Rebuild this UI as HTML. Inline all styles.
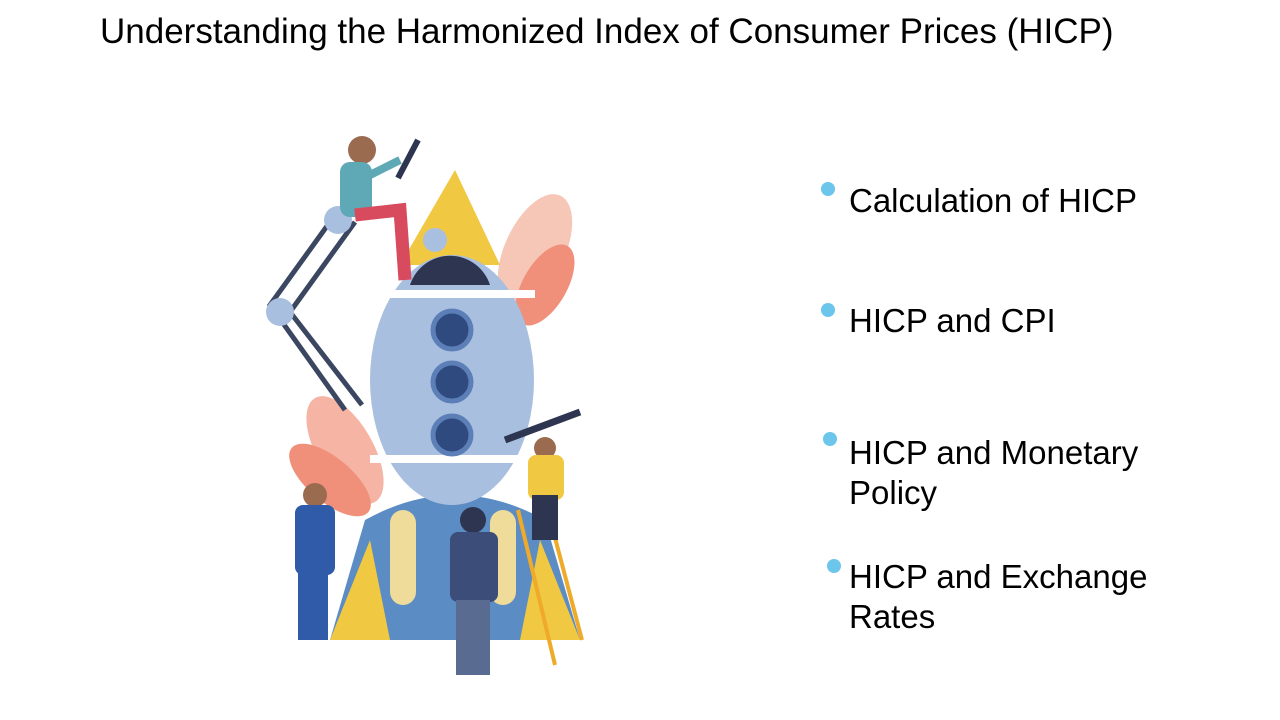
<!DOCTYPE html>
<html><head><meta charset="utf-8"><style>
html,body{margin:0;padding:0;background:#fff;width:1280px;height:720px;overflow:hidden;font-family:"Liberation Sans",Arial,sans-serif}
#title{position:absolute;left:100px;top:12px;font-size:35px;color:#000;white-space:nowrap}
.b{position:absolute;left:849px;font-size:33px;line-height:40px;color:#000}
.dot{position:absolute;width:14px;height:14px;border-radius:50%;background:#6cc6ec}
svg{position:absolute;left:0;top:0}
</style></head><body>
<div id="title">Understanding the Harmonized Index of Consumer Prices (HICP)</div>
<svg width="1280" height="720">
 <g>
  <ellipse cx="535" cy="250" rx="30" ry="60" fill="#f6c6b6" transform="rotate(25 535 250)"/>
  <ellipse cx="545" cy="285" rx="22" ry="45" fill="#f08f7a" transform="rotate(30 545 285)"/>
  <ellipse cx="345" cy="450" rx="28" ry="60" fill="#f6b4a4" transform="rotate(-30 345 450)"/>
  <ellipse cx="330" cy="480" rx="22" ry="50" fill="#f08f7a" transform="rotate(-50 330 480)"/>
 </g>
 <polygon points="455,170 400,265 500,265" fill="#f1c842"/>
 <path d="M365,520 Q455,470 545,520 L580,640 L330,640 Z" fill="#5b8cc4"/>
 <polygon points="330,640 370,540 390,640" fill="#f1c842"/>
 <polygon points="580,640 540,540 520,640" fill="#f1c842"/>
 <rect x="390" y="510" width="26" height="95" rx="13" fill="#efdb9a"/>
 <rect x="490" y="510" width="26" height="95" rx="13" fill="#efdb9a"/>
 <ellipse cx="452" cy="380" rx="82" ry="125" fill="#a9bfe0"/>
 <rect x="370" y="290" width="165" height="8" fill="#fff"/>
 <rect x="370" y="455" width="165" height="8" fill="#fff"/>
 <path d="M410,285 A42,42 0 0 1 490,285 Z" fill="#2d3550"/>
 <g fill="#2f4a7f" stroke="#5d7fb8" stroke-width="5">
  <circle cx="452" cy="330" r="19"/><circle cx="452" cy="382" r="19"/><circle cx="452" cy="435" r="19"/>
 </g>
 <g stroke="#3b4760" stroke-width="5" fill="none">
  <polyline points="335,215 270,305 345,410"/>
  <polyline points="355,222 290,312 362,405"/>
 </g>
 <circle cx="280" cy="312" r="14" fill="#a9bfe0"/><circle cx="338" cy="220" r="14" fill="#a9bfe0"/>
 <circle cx="435" cy="240" r="12" fill="#a9bfe0"/>
 <g>
  <circle cx="362" cy="150" r="14" fill="#9b6b50"/>
  <rect x="340" y="162" width="32" height="55" rx="10" fill="#5fa8b5"/>
  <path d="M355,215 L400,210 L405,280" stroke="#d84a5e" stroke-width="13" fill="none"/>
  <line x1="370" y1="175" x2="400" y2="160" stroke="#5fa8b5" stroke-width="8"/>
  <line x1="398" y1="178" x2="418" y2="140" stroke="#2d3550" stroke-width="6"/>
 </g>
 <g>
  <circle cx="315" cy="495" r="12" fill="#9b6b50"/>
  <rect x="295" y="505" width="40" height="70" rx="8" fill="#2f5ba8"/>
  <rect x="298" y="570" width="30" height="70" fill="#2f5ba8"/>
 </g>
 <g>
  <circle cx="473" cy="520" r="13" fill="#2d3550"/>
  <rect x="450" y="532" width="48" height="70" rx="8" fill="#3b4d78"/>
  <rect x="456" y="600" width="34" height="75" fill="#596b90"/>
 </g>
 <g>
  <line x1="518" y1="510" x2="555" y2="665" stroke="#efaa2a" stroke-width="4"/>
  <line x1="545" y1="500" x2="582" y2="640" stroke="#efaa2a" stroke-width="4"/>
  <circle cx="545" cy="448" r="11" fill="#9b6b50"/>
  <rect x="528" y="455" width="36" height="45" rx="8" fill="#f1c842"/>
  <rect x="532" y="495" width="26" height="45" fill="#2d3550"/>
  <line x1="505" y1="440" x2="580" y2="412" stroke="#2d3550" stroke-width="7"/>
 </g>
</svg>
<div class="dot" style="left:821px;top:182px"></div>
<div class="b" style="top:181px">Calculation of HICP</div>
<div class="dot" style="left:821px;top:303px"></div>
<div class="b" style="top:301px">HICP and CPI</div>
<div class="dot" style="left:823px;top:432px"></div>
<div class="b" style="top:433px">HICP and Monetary<br>Policy</div>
<div class="dot" style="left:827px;top:559px"></div>
<div class="b" style="top:557px">HICP and Exchange<br>Rates</div>
</body></html>
